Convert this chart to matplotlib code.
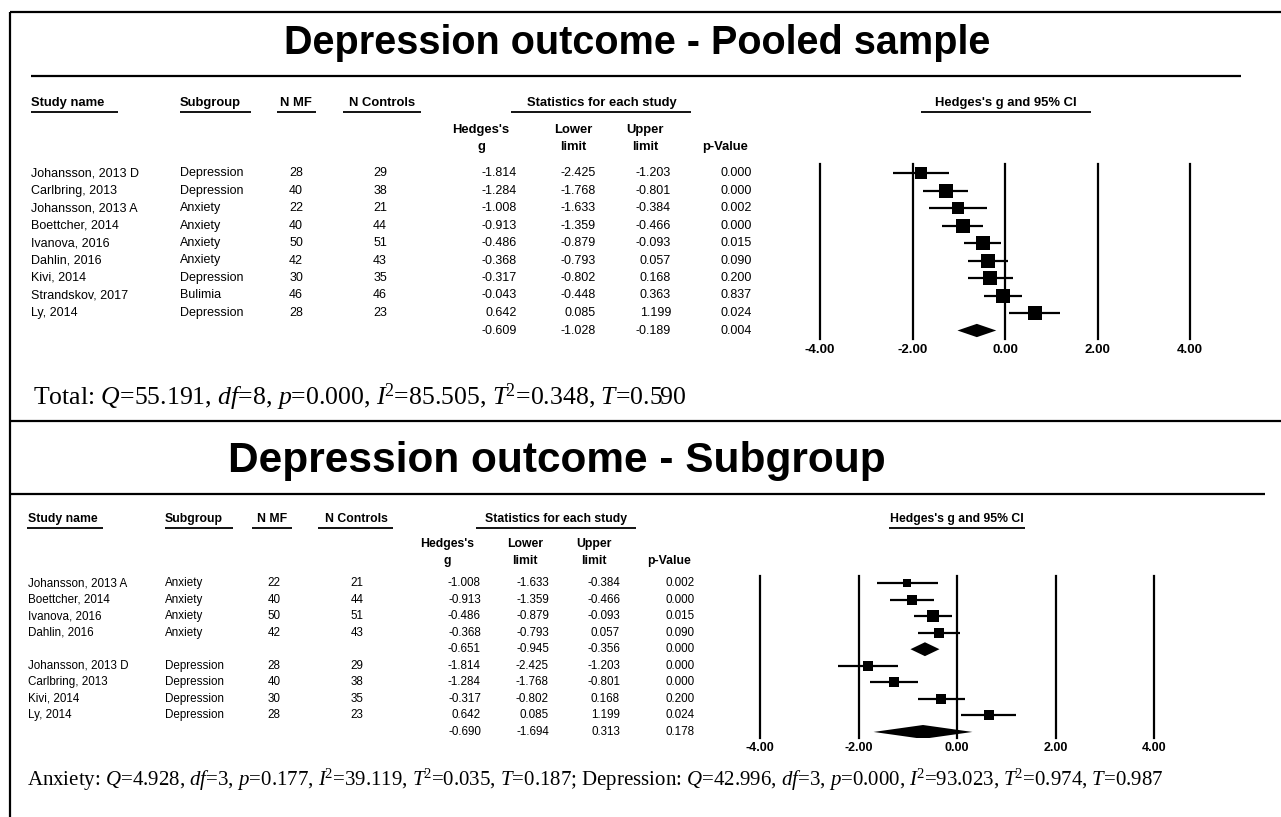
import numpy as np
import matplotlib
matplotlib.use("Agg")
import matplotlib.pyplot as plt
from matplotlib.patches import Polygon

# ---------------- data ----------------
pooled_names = ["Johansson, 2013 D", "Carlbring, 2013", "Johansson, 2013 A", "Boettcher, 2014",
                "Ivanova, 2016", "Dahlin, 2016", "Kivi, 2014", "Strandskov, 2017", "Ly, 2014"]
pooled_subgroups = ["Depression", "Depression", "Anxiety", "Anxiety", "Anxiety", "Anxiety",
                    "Depression", "Bulimia", "Depression"]
pooled_nmf = [28, 40, 22, 40, 50, 42, 30, 46, 28]
pooled_nctrl = [29, 38, 21, 44, 51, 43, 35, 46, 23]
pooled_g = [-1.814, -1.284, -1.008, -0.913, -0.486, -0.368, -0.317, -0.043, 0.642]
pooled_lower = [-2.425, -1.768, -1.633, -1.359, -0.879, -0.793, -0.802, -0.448, 0.085]
pooled_upper = [-1.203, -0.801, -0.384, -0.466, -0.093, 0.057, 0.168, 0.363, 1.199]
pooled_p = [0.000, 0.000, 0.002, 0.000, 0.015, 0.090, 0.200, 0.837, 0.024]
pooled_summary = [-0.609, -1.028, -0.189, 0.004]  # g, lower, upper, p
pooled_tau2 = 0.348

anx_names = ["Johansson, 2013 A", "Boettcher, 2014", "Ivanova, 2016", "Dahlin, 2016"]
anx_nmf = [22, 40, 50, 42]
anx_nctrl = [21, 44, 51, 43]
anx_g = [-1.008, -0.913, -0.486, -0.368]
anx_lower = [-1.633, -1.359, -0.879, -0.793]
anx_upper = [-0.384, -0.466, -0.093, 0.057]
anx_p = [0.002, 0.000, 0.015, 0.090]
anx_summary = [-0.651, -0.945, -0.356, 0.000]
anx_tau2 = 0.035

dep_names = ["Johansson, 2013 D", "Carlbring, 2013", "Kivi, 2014", "Ly, 2014"]
dep_nmf = [28, 40, 30, 28]
dep_nctrl = [29, 38, 35, 23]
dep_g = [-1.814, -1.284, -0.317, 0.642]
dep_lower = [-2.425, -1.768, -0.802, 0.085]
dep_upper = [-1.203, -0.801, 0.168, 1.199]
dep_p = [0.000, 0.000, 0.200, 0.024]
dep_summary = [-0.690, -1.694, 0.313, 0.178]
dep_tau2 = 0.974

axis_ticks = [-4, -2, 0, 2, 4]
axis_ticklabels = ["-4.00", "-2.00", "0.00", "2.00", "4.00"]

title1 = "Depression outcome - Pooled sample"
title2 = "Depression outcome - Subgroup"
total_text = (r"Total: $Q$=55.191, $df$=8, $p$=0.000, $I^{\!2}$=85.505, $T^{\!2}$=0.348, $T$=0.590")
sub_text = (r"Anxiety: $Q$=4.928, $df$=3, $p$=0.177, $I^{\!2}$=39.119, $T^{\!2}$=0.035, $T$=0.187; "
            r"Depression: $Q$=42.996, $df$=3, $p$=0.000, $I^{\!2}$=93.023, $T^{\!2}$=0.974, $T$=0.987")

# ---------------- setup ----------------
plt.rcParams['font.family'] = ['Liberation Sans', 'DejaVu Sans']
plt.rcParams['mathtext.fontset'] = 'custom'
plt.rcParams['mathtext.rm'] = 'Liberation Serif'
plt.rcParams['mathtext.it'] = 'Liberation Serif:italic'

W, H = 1281, 817
fig = plt.figure(figsize=(W / 100, H / 100), dpi=100)
bg = fig.add_axes([0, 0, 1, 1])
bg.set_xlim(0, W)
bg.set_ylim(H, 0)
bg.axis('off')

LW = 1.6


def hline(y, x0, x1, lw=LW):
    bg.plot([x0, x1], [y, y], color='black', lw=lw, solid_capstyle='butt')


def vline(x, y0, y1, lw=LW):
    bg.plot([x, x], [y0, y1], color='black', lw=lw, solid_capstyle='butt')


# frame
hline(12, 10, W)
vline(10, 12, H)
hline(421, 10, W)
hline(76, 31, 1241)
hline(494, 10, 1265)

bg.text(637, 43, title1, ha='center', va='center', fontsize=28.5, fontweight='bold')
bg.text(557, 461, title2, ha='center', va='center', fontsize=30.5, fontweight='bold')


def header(x, y, s, ha, ul, fs):
    bg.text(x, y, s, ha=ha, va='center', fontsize=fs, fontweight='bold')
    if ul is not None:
        hline(y + 9, ul[0], ul[1], lw=1.3)


def fmt(v):
    return f"{v:.3f}"


def weights(lower, upper, tau2):
    se = (np.array(upper) - np.array(lower)) / 3.92
    w = 1.0 / (se ** 2 + tau2)
    return np.sqrt(w / w.max())


def forest(rect_px, ylim, g, lo, hi, sizes, diamonds, tick_pad, tick_fs, dh):
    x0, x1, y0, y1 = rect_px
    ax = fig.add_axes([x0 / W, 1 - y1 / H, (x1 - x0) / W, (y1 - y0) / H])
    ax.set_xlim(-4, 4)
    ax.set_ylim(*ylim)
    for s in ax.spines.values():
        s.set_visible(False)
    ax.set_yticks([])
    ax.set_xticks(axis_ticks)
    ax.set_xticklabels(axis_ticklabels, fontweight='bold', fontsize=tick_fs)
    ax.tick_params(axis='x', length=0, pad=tick_pad)
    for t in axis_ticks:
        ax.axvline(t, color='black', lw=LW, clip_on=False)
    ax.patch.set_alpha(0)
    for (yy, gg, l, h, s) in zip(g[0], g[1], lo, hi, sizes):
        ax.plot([l, h], [yy, yy], color='black', lw=1.6, solid_capstyle='butt')
        ax.plot([gg], [yy], marker='s', color='black', markersize=s, markeredgewidth=0)
    for (yy, gg, l, h) in diamonds:
        ax.add_patch(Polygon([[l, yy], [gg, yy - dh], [h, yy], [gg, yy + dh]],
                             closed=True, color='black', lw=0))
    return ax


# ---------------- block 1: pooled ----------------
r0, pitch = 173.0, 17.5
fs1 = 9.0
hf1 = 9.4
hy = 103
header(31, hy, "Study name", 'left', (31, 118), hf1)
header(180, hy, "Subgroup", 'left', (180, 251), hf1)
header(296, hy, "N MF", 'center', (277, 316), hf1)
header(382, hy, "N Controls", 'center', (343, 421), hf1)
header(602, hy, "Statistics for each study", 'center', (511, 691), hf1)
header(1006, hy, "Hedges's g and 95% CI", 'center', (921, 1091), hf1)
header(481, 130, "Hedges's", 'center', None, hf1)
header(481, 147, "g", 'center', None, hf1)
header(573, 130, "Lower", 'center', None, hf1)
header(573, 147, "limit", 'center', None, hf1)
header(645, 130, "Upper", 'center', None, hf1)
header(645, 147, "limit", 'center', None, hf1)
header(725, 147, "p-Value", 'center', None, hf1)

for i in range(len(pooled_names)):
    y = r0 + pitch * i
    bg.text(31, y, pooled_names[i], va='center', fontsize=fs1)
    bg.text(180, y, pooled_subgroups[i], va='center', fontsize=fs1)
    bg.text(296, y, str(pooled_nmf[i]), va='center', ha='center', fontsize=fs1)
    bg.text(380, y, str(pooled_nctrl[i]), va='center', ha='center', fontsize=fs1)
    bg.text(517, y, fmt(pooled_g[i]), va='center', ha='right', fontsize=fs1)
    bg.text(596, y, fmt(pooled_lower[i]), va='center', ha='right', fontsize=fs1)
    bg.text(671, y, fmt(pooled_upper[i]), va='center', ha='right', fontsize=fs1)
    bg.text(752, y, fmt(pooled_p[i]), va='center', ha='right', fontsize=fs1)
ys = r0 + pitch * len(pooled_names)
for x, v in zip([517, 596, 671, 752], pooled_summary):
    bg.text(x, ys, fmt(v), va='center', ha='right', fontsize=fs1)

n1 = len(pooled_names)
top1, bot1 = 164, 339
ylim1 = ((bot1 - r0) / pitch, (top1 - r0) / pitch)
sz1 = 10.0 * weights(pooled_lower, pooled_upper, pooled_tau2)
forest((820, 1190, top1, bot1), ylim1, (list(range(n1)), pooled_g), pooled_lower, pooled_upper,
       sz1, [(n1, pooled_summary[0], pooled_summary[1], pooled_summary[2])], 3.5, 9.5, 0.38)

bg.text(33, 397, total_text, va='center', ha='left', fontsize=18.5,
        family='Liberation Serif')

# ---------------- block 2: subgroups ----------------
r2, pitch2 = 583.0, 16.55
fs2 = 8.4
hf2 = 8.8
hy2 = 519
header(28, hy2, "Study name", 'left', (27, 103), hf2)
header(165, hy2, "Subgroup", 'left', (165, 233), hf2)
header(272, hy2, "N MF", 'center', (252, 292), hf2)
header(356, hy2, "N Controls", 'center', (318, 393), hf2)
header(556, hy2, "Statistics for each study", 'center', (476, 636), hf2)
header(957, hy2, "Hedges's g and 95% CI", 'center', (889, 1025), hf2)
header(447, 544, "Hedges's", 'center', None, hf2)
header(447, 561, "g", 'center', None, hf2)
header(525, 544, "Lower", 'center', None, hf2)
header(525, 561, "limit", 'center', None, hf2)
header(594, 544, "Upper", 'center', None, hf2)
header(594, 561, "limit", 'center', None, hf2)
header(669, 561, "p-Value", 'center', None, hf2)

row = 0
for names, sub, nmf, nct, g, lo, hi, p, summ in [
        (anx_names, "Anxiety", anx_nmf, anx_nctrl, anx_g, anx_lower, anx_upper, anx_p, anx_summary),
        (dep_names, "Depression", dep_nmf, dep_nctrl, dep_g, dep_lower, dep_upper, dep_p, dep_summary)]:
    for i in range(len(names)):
        y = r2 + pitch2 * row
        bg.text(28, y, names[i], va='center', fontsize=fs2)
        bg.text(165, y, sub, va='center', fontsize=fs2)
        bg.text(274, y, str(nmf[i]), va='center', ha='center', fontsize=fs2)
        bg.text(357, y, str(nct[i]), va='center', ha='center', fontsize=fs2)
        for x, v in zip([481, 549, 620, 695], [g[i], lo[i], hi[i], p[i]]):
            bg.text(x, y, fmt(v), va='center', ha='right', fontsize=fs2)
        row += 1
    y = r2 + pitch2 * row
    for x, v in zip([481, 549, 620, 695], summ):
        bg.text(x, y, fmt(v), va='center', ha='right', fontsize=fs2)
    row += 1

sz_a = 8.2 * weights(anx_lower, anx_upper, anx_tau2)
sz_d = 7.6 * weights(dep_lower, dep_upper, dep_tau2)
na, nd = len(anx_names), len(dep_names)
ypos2 = list(range(na)) + list(range(na + 1, na + 1 + nd))
top2, bot2 = 576, 738
ylim2 = ((bot2 - r2) / pitch2, (top2 - r2) / pitch2)
forest((760, 1154, top2, bot2), ylim2, (ypos2, anx_g + dep_g), anx_lower + dep_lower,
       anx_upper + dep_upper, list(sz_a) + list(sz_d),
       [(na, anx_summary[0], anx_summary[1], anx_summary[2]),
        (na + 1 + nd, dep_summary[0], dep_summary[1], dep_summary[2])], 3, 9.0, 0.42)

bg.text(27, 780, sub_text, va='center', ha='left', fontsize=15, family='Liberation Serif')

fig.savefig("out.png", dpi=100)
